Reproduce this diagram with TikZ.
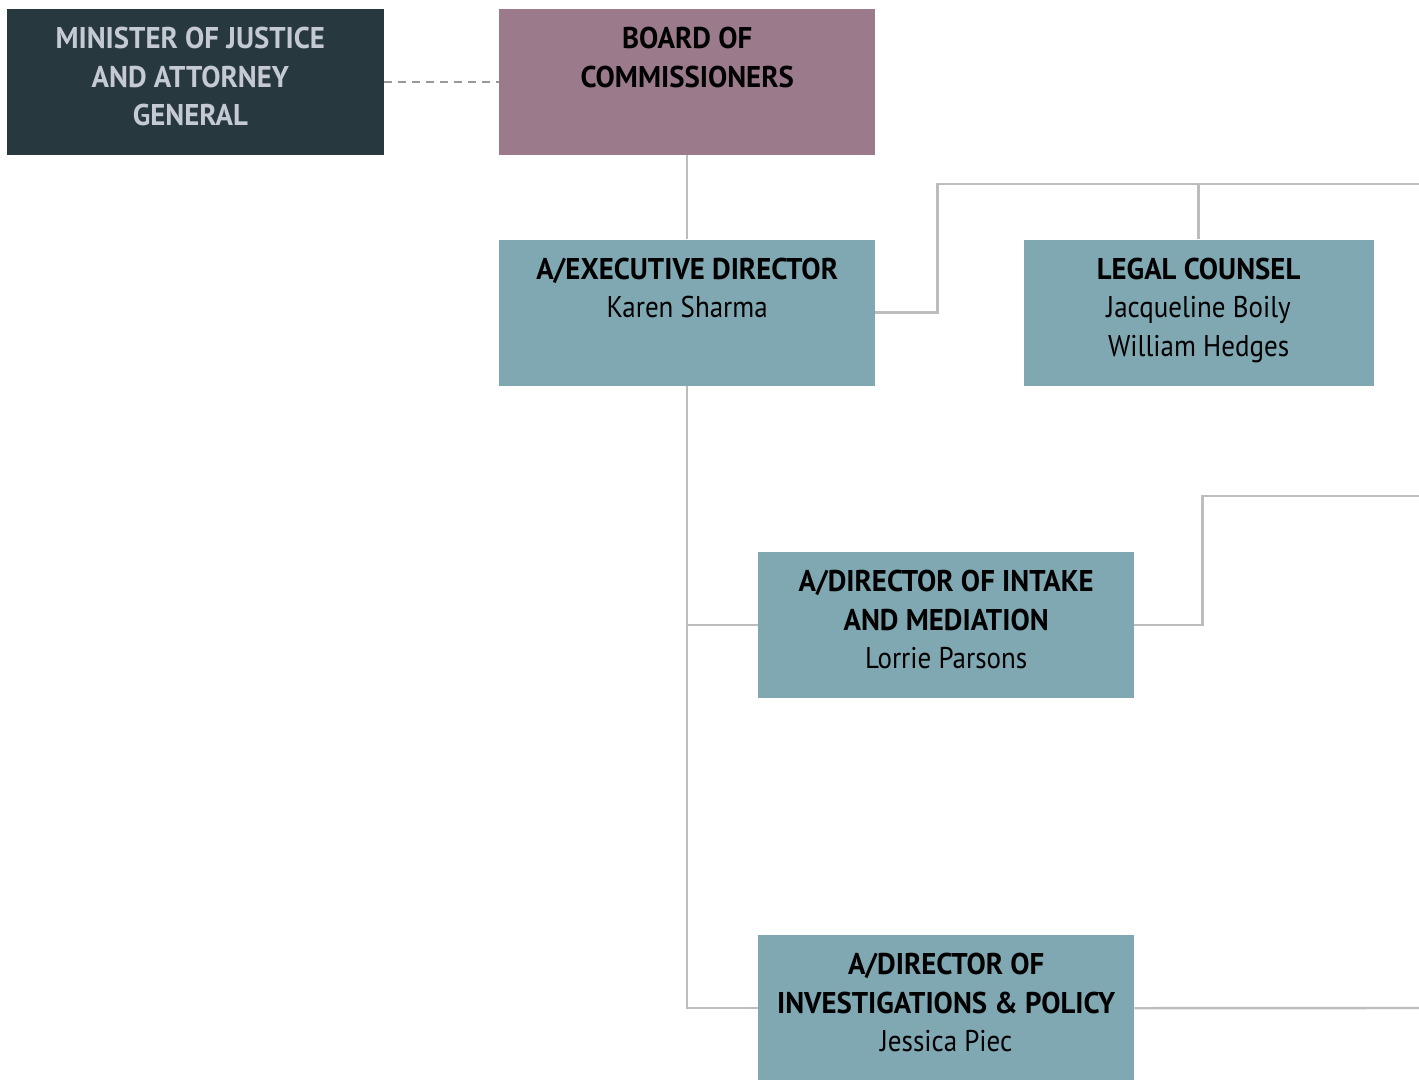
\documentclass[tikz,border=0pt]{standalone}
\usepackage{fontspec}
\setmainfont{PT Sans}[FakeStretch=0.96]
\newfontfamily\namefont{PT Sans}[FakeStretch=0.9]
\usetikzlibrary{positioning}

\definecolor{ministerfill}{HTML}{27393F}
\definecolor{ministertext}{HTML}{C5C9D3}
\definecolor{boardfill}{HTML}{9B7A8C}
\definecolor{unitfill}{HTML}{7FA8B2}
\definecolor{linkgrey}{HTML}{BDBDBD}
\definecolor{dashgrey}{HTML}{999999}

% text block of a box: width, bold title lines, names
\newcommand{\boxtext}[3]{\parbox[t][146pt][t]{#1}{\centering
  \fontsize{30}{38.5}\selectfont\rule{0pt}{39.5pt}\textbf{#2}\ifx&#3&\else\\{\namefont#3}\fi}}

\begin{document}
\begin{tikzpicture}[x=1pt, y=-1pt, node distance=84pt,
  unit/.style={fill=unitfill, inner sep=0pt, anchor=north west},
  link/.style={draw=linkgrey, line width=2.4pt},
  dashlink/.style={draw=dashgrey, line width=2.4pt, dash pattern=on 8pt off 6pt}]
  \useasboundingbox (0,0) rectangle (1419,1079);

  \node[unit, fill=boardfill] (board) at (499,9)
    {\boxtext{376pt}{BOARD OF\\COMMISSIONERS}{}};
  \node[unit, fill=ministerfill, text=ministertext, left=115pt of board] (minister)
    {\boxtext{377pt}{\hspace*{-10pt}MINISTER OF JUSTICE\\\hspace*{-10pt}AND ATTORNEY\\\hspace*{-10pt}GENERAL}{}};
  \node[unit, below=84pt of board] (exec)
    {\boxtext{376pt}{A/EXECUTIVE DIRECTOR}{Karen Sharma}};
  \node[unit, right=148pt of exec] (legal)
    {\boxtext{350pt}{LEGAL COUNSEL}{Jacqueline Boily\\William Hedges}};
  \node[unit] (intake) at (758,552)
    {\boxtext{376pt}{A/DIRECTOR OF INTAKE\\AND MEDIATION}{Lorrie Parsons}};
  \node[unit] (invest) at (758,935)
    {\boxtext{376pt}{A/DIRECTOR OF\\INVESTIGATIONS \& POLICY}{Jessica Piec}};

  \coordinate (edgeA) at (1419,184);
  \coordinate (edgeB) at (1419,496);
  \coordinate (edgeC) at (1419,1008);

  \draw[dashlink] (minister) -- (board);
  \draw[link] (board) -- (exec);
  \draw[link] (exec.east) -- ++(62,0) |- (edgeA);
  \draw[link] (legal.north) -- (legal.north |- edgeA);
  \draw[link] (exec.south) |- (invest.west);
  \draw[link] (exec.south |- intake.west) -- (intake.west);
  \draw[link] (intake.east) -- ++(68,0) |- (edgeB);
  \draw[link] (invest.east) -- (edgeC);
\end{tikzpicture}
\end{document}
